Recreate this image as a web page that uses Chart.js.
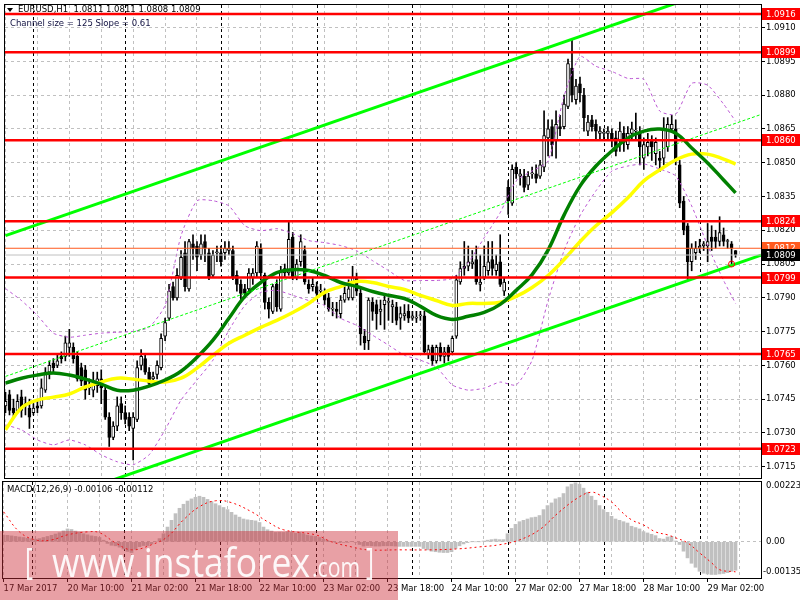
<!DOCTYPE html>
<html>
<head>
<meta charset="utf-8">
<title>EURUSD H1</title>
<script src="https://cdn.jsdelivr.net/npm/chart.js@4.4.1/dist/chart.umd.min.js"></script>
<style>
  html, body { margin: 0; padding: 0; background: #fff; }
  #wrap { position: relative; width: 800px; height: 600px; overflow: hidden; }
  #wrap canvas { position: absolute; left: 0; }
  #price { top: 0; }
  #macd { top: 480px; }
</style>
</head>
<body>
<div id="wrap">
  <canvas id="price" width="800" height="483"></canvas>
  <canvas id="macd" width="800" height="120"></canvas>
</div>
<script>
// ---------------- DATA ----------------
// H1 bars, index 0 = 17 Mar 2017 17:00
const opens = [
  1.0742,1.0747,1.0741,1.0740,1.0746,1.0742,1.0741,1.0739,1.0742,1.0742,
  1.0749,1.0757,1.0761,1.0760,1.0764,1.0764,1.0768,1.0768,1.0764,1.0759,
  1.0758,1.0750,1.0749,1.0751,1.0754,1.0749,1.0737,1.0728,1.0733,1.0743,
  1.0739,1.0737,1.0732,1.0736,1.0760,1.0763,1.0757,1.0754,1.0756,1.0759,
  1.0773,1.0781,1.0795,1.0790,1.0799,1.0810,1.0794,1.0814,1.0813,1.0809,
  1.0815,1.0810,1.0800,1.0810,1.0810,1.0810,1.0811,1.0811,1.0800,1.0796,
  1.0794,1.0794,1.0799,1.0801,1.0812,1.0800,1.0788,1.0784,1.0796,1.0785,
  1.0803,1.0801,1.0817,1.0799,1.0806,1.0811,1.0796,1.0795,1.0795,1.0793,
  1.0792,1.0790,1.0785,1.0785,1.0783,1.0789,1.0790,1.0790,1.0799,1.0792,
  1.0773,1.0771,1.0788,1.0787,1.0784,1.0787,1.0788,1.0786,1.0786,1.0781,
  1.0782,1.0784,1.0781,1.0781,1.0782,1.0782,1.0765,1.0768,1.0762,1.0768,
  1.0764,1.0768,1.0766,1.0773,1.0797,1.0804,1.0804,1.0805,1.0807,1.0796,
  1.0799,1.0802,1.0807,1.0802,1.0806,1.0793,1.0839,1.0832,1.0848,1.0844,
  1.0844,1.0840,1.0845,1.0845,1.0844,1.0848,1.0861,1.0866,1.0860,1.0866,
  1.0866,1.0875,1.0892,1.0878,1.0885,1.0880,1.0864,1.0869,1.0867,1.0863,
  1.0863,1.0863,1.0863,1.0861,1.0860,1.0863,1.0858,1.0863,1.0864,1.0863,
  1.0852,1.0857,1.0860,1.0854,1.0852,1.0852,1.0857,1.0865,1.0865,1.0849,
  1.0833,1.0822,1.0806,1.0810,1.0812,1.0813,1.0813,1.0817,1.0817,1.0815,
  1.0818,1.0815,1.0814,1.0811
];
const highs = [
  1.0748,1.0749,1.0745,1.0747,1.0749,1.0746,1.0745,1.0743,1.0745,1.0754,
  1.0759,1.0762,1.0763,1.0765,1.0766,1.0773,1.0776,1.0770,1.0766,1.0761,
  1.0760,1.0754,1.0757,1.0757,1.0758,1.0751,1.0739,1.0735,1.0746,1.0746,
  1.0742,1.0739,1.0739,1.0762,1.0767,1.0765,1.0759,1.0757,1.0762,1.0774,
  1.0781,1.0796,1.0797,1.0803,1.0811,1.0815,1.0816,1.0818,1.0815,1.0818,
  1.0818,1.0812,1.0811,1.0813,1.0813,1.0815,1.0815,1.0813,1.0802,1.0798,
  1.0796,1.0803,1.0803,1.0815,1.0814,1.0801,1.0790,1.0796,1.0798,1.0804,
  1.0805,1.0824,1.0819,1.0807,1.0818,1.0813,1.0798,1.0799,1.0797,1.0796,
  1.0794,1.0792,1.0788,1.0788,1.0791,1.0795,1.0798,1.0804,1.0801,1.0794,
  1.0776,1.0790,1.0790,1.0789,1.0789,1.0791,1.0790,1.0789,1.0788,1.0786,
  1.0787,1.0787,1.0784,1.0784,1.0784,1.0784,1.0769,1.0769,1.0769,1.0770,
  1.0768,1.0769,1.0773,1.0800,1.0806,1.0815,1.0813,1.0811,1.0813,1.0809,
  1.0813,1.0815,1.0815,1.0809,1.0818,1.0799,1.0842,1.0849,1.0850,1.0847,
  1.0847,1.0846,1.0848,1.0849,1.0851,1.0873,1.0869,1.0869,1.0873,1.0871,
  1.0880,1.0896,1.0905,1.0887,1.0888,1.0883,1.0871,1.0871,1.0869,1.0866,
  1.0865,1.0866,1.0865,1.0864,1.0868,1.0866,1.0866,1.0868,1.0872,1.0866,
  1.0861,1.0863,1.0862,1.0861,1.0855,1.0870,1.0870,1.0871,1.0869,1.0851,
  1.0835,1.0823,1.0814,1.0815,1.0816,1.0815,1.0823,1.0822,1.0820,1.0826,
  1.0821,1.0816,1.0815,1.0811
];
const lows = [
  1.0739,1.0738,1.0737,1.0739,1.0737,1.0738,1.0732,1.0738,1.0739,1.0741,
  1.0748,1.0754,1.0757,1.0759,1.0761,1.0762,1.0764,1.0761,1.0753,1.0751,
  1.0745,1.0747,1.0746,1.0748,1.0743,1.0736,1.0724,1.0727,1.0731,1.0736,
  1.0734,1.0731,1.0718,1.0735,1.0758,1.0756,1.0751,1.0753,1.0754,1.0758,
  1.0771,1.0780,1.0789,1.0789,1.0798,1.0793,1.0793,1.0807,1.0802,1.0807,
  1.0806,1.0798,1.0799,1.0806,1.0804,1.0807,1.0809,1.0798,1.0793,1.0789,
  1.0790,1.0792,1.0796,1.0799,1.0798,1.0785,1.0781,1.0783,1.0784,1.0784,
  1.0799,1.0800,1.0798,1.0798,1.0804,1.0796,1.0792,1.0793,1.0791,1.0791,
  1.0787,1.0784,1.0782,1.0781,1.0781,1.0788,1.0789,1.0789,1.0791,1.0769,
  1.0767,1.0767,1.0780,1.0776,1.0778,1.0776,1.0780,1.0779,1.0778,1.0776,
  1.0780,1.0779,1.0780,1.0779,1.0780,1.0765,1.0763,1.0760,1.0761,1.0762,
  1.0761,1.0762,1.0765,1.0772,1.0796,1.0800,1.0802,1.0803,1.0796,1.0793,
  1.0798,1.0800,1.0800,1.0800,1.0795,1.0791,1.0827,1.0831,1.0843,1.0840,
  1.0837,1.0838,1.0843,1.0841,1.0843,1.0846,1.0853,1.0853,1.0852,1.0862,
  1.0865,1.0874,1.0877,1.0876,1.0877,1.0864,1.0862,1.0864,1.0860,1.0860,
  1.0860,1.0860,1.0857,1.0853,1.0855,1.0855,1.0856,1.0860,1.0860,1.0849,
  1.0847,1.0853,1.0851,1.0849,1.0846,1.0849,1.0855,1.0864,1.0849,1.0830,
  1.0818,1.0798,1.0802,1.0807,1.0810,1.0811,1.0806,1.0811,1.0812,1.0813,
  1.0813,1.0812,1.0805,1.0808
];
const closes = [
  1.0744,1.0740,1.0739,1.0744,1.0740,1.0743,1.0737,1.0741,1.0741,1.0750,
  1.0757,1.0760,1.0759,1.0762,1.0763,1.0770,1.0770,1.0763,1.0754,1.0753,
  1.0749,1.0750,1.0752,1.0754,1.0750,1.0737,1.0728,1.0733,1.0742,1.0739,
  1.0736,1.0733,1.0737,1.0759,1.0764,1.0757,1.0752,1.0755,1.0760,1.0772,
  1.0779,1.0793,1.0790,1.0800,1.0808,1.0795,1.0815,1.0812,1.0808,1.0814,
  1.0812,1.0799,1.0809,1.0810,1.0806,1.0812,1.0812,1.0799,1.0796,1.0792,
  1.0792,1.0801,1.0801,1.0813,1.0801,1.0788,1.0785,1.0795,1.0786,1.0802,
  1.0801,1.0816,1.0799,1.0805,1.0815,1.0797,1.0794,1.0796,1.0792,1.0793,
  1.0789,1.0785,1.0785,1.0784,1.0789,1.0792,1.0794,1.0799,1.0793,1.0774,
  1.0770,1.0789,1.0784,1.0783,1.0785,1.0789,1.0788,1.0787,1.0780,1.0783,
  1.0783,1.0781,1.0782,1.0781,1.0782,1.0766,1.0767,1.0762,1.0768,1.0764,
  1.0766,1.0764,1.0772,1.0798,1.0803,1.0803,1.0806,1.0806,1.0797,1.0797,
  1.0804,1.0806,1.0803,1.0805,1.0796,1.0797,1.0833,1.0847,1.0845,1.0845,
  1.0839,1.0844,1.0845,1.0843,1.0849,1.0862,1.0865,1.0858,1.0867,1.0865,
  1.0876,1.0894,1.0880,1.0884,1.0881,1.0870,1.0868,1.0866,1.0864,1.0864,
  1.0863,1.0864,1.0860,1.0855,1.0864,1.0859,1.0863,1.0865,1.0864,1.0857,
  1.0858,1.0859,1.0857,1.0859,1.0851,1.0865,1.0867,1.0867,1.0851,1.0832,
  1.0820,1.0806,1.0812,1.0812,1.0813,1.0814,1.0815,1.0815,1.0815,1.0819,
  1.0815,1.0815,1.0812,1.0809
];

// indicator lines, sampled at these bar indexes
const lineBars = [0,4,8,12,16,20,24,28,32,36,40,44,48,52,56,60,64,68,72,76,80,84,88,92,96,100,
  104,108,112,116,120,124,128,132,136,140,144,148,152,156,160,164,168,172,176,180,183];
const maGreen = [1.07521,1.07543,1.07557,1.07566,1.07557,1.07539,1.07517,1.07490,1.07490,1.07508,
  1.07535,1.07574,1.07636,1.07712,1.07809,1.07906,1.07968,1.08012,1.08025,1.08021,
  1.07999,1.07968,1.07950,1.07928,1.07911,1.07897,1.07862,1.07822,1.07804,1.07818,
  1.07835,1.07871,1.07933,1.08003,1.08112,1.08267,1.08396,1.08485,1.08552,1.08609,
  1.08640,1.08649,1.08631,1.08565,1.08499,1.08423,1.08366];
const maYellow = [1.07314,1.07411,1.07446,1.07459,1.07473,1.07504,1.07526,1.07543,1.07539,1.07530,
  1.07526,1.07543,1.07588,1.07645,1.07698,1.07734,1.07769,1.07800,1.07835,1.07875,
  1.07924,1.07950,1.07972,1.07968,1.07950,1.07937,1.07911,1.07888,1.07866,1.07875,
  1.07875,1.07880,1.07906,1.07946,1.07999,1.08070,1.08149,1.08220,1.08278,1.08344,
  1.08419,1.08468,1.08512,1.08538,1.08538,1.08516,1.08494];
const bandUpper = [1.07941,1.07888,1.07822,1.07743,1.07725,1.07734,1.07743,1.07747,1.07751,1.07769,
  1.07866,1.08176,1.08331,1.08331,1.08308,1.08220,1.08198,1.08207,1.08185,1.08154,
  1.08145,1.08132,1.08109,1.08065,1.08021,1.07977,1.07977,1.07977,1.07986,1.08056,
  1.08167,1.08278,1.08419,1.08463,1.08507,1.08795,1.08972,1.08928,1.08905,1.08874,
  1.08870,1.08729,1.08715,1.08852,1.08844,1.08760,1.08684];
const bandLower = [1.07336,1.07314,1.07269,1.07247,1.07269,1.07247,1.07203,1.07172,1.07159,1.07203,
  1.07314,1.07446,1.07535,1.07623,1.07756,1.07866,1.07924,1.07933,1.07911,1.07888,
  1.07866,1.07809,1.07778,1.07734,1.07690,1.07645,1.07623,1.07592,1.07513,1.07490,
  1.07499,1.07526,1.07513,1.07623,1.07888,1.08109,1.08264,1.08375,1.08463,1.08485,
  1.08494,1.08472,1.08441,1.08308,1.08132,1.07977,1.07875];

// MACD(12,26,9) histogram, one value per bar
const macdHist = [
  0.00025,0.00024,0.00022,0.00020,0.00018,0.00016,0.00013,0.00011,0.00010,0.00012,
  0.00016,0.00020,0.00024,0.00029,0.00034,0.00041,0.00048,0.00046,0.00040,0.00036,
  0.00030,0.00026,0.00022,0.00020,0.00016,0.00006,-0.00006,-0.00013,-0.00015,-0.00020,
  -0.00027,-0.00036,-0.00040,-0.00028,-0.00018,-0.00014,-0.00014,-0.00008,0.00000,0.00012,
  0.00030,0.00055,0.00080,0.00105,0.00125,0.00140,0.00152,0.00160,0.00166,0.00170,
  0.00166,0.00158,0.00150,0.00142,0.00135,0.00128,0.00120,0.00110,0.00100,0.00092,
  0.00085,0.00082,0.00080,0.00078,0.00072,0.00055,0.00045,0.00040,0.00035,0.00036,
  0.00035,0.00038,0.00035,0.00032,0.00035,0.00030,0.00025,0.00022,0.00020,0.00016,
  0.00010,0.00005,0.00002,-0.00002,-0.00003,-0.00002,-0.00002,0.00001,-0.00002,-0.00010,
  -0.00016,-0.00014,-0.00015,-0.00016,-0.00016,-0.00015,-0.00015,-0.00015,-0.00016,-0.00017,
  -0.00017,-0.00017,-0.00017,-0.00017,-0.00017,-0.00025,-0.00030,-0.00035,-0.00037,-0.00039,
  -0.00040,-0.00040,-0.00037,-0.00025,-0.00015,-0.00008,-0.00003,0.00000,0.00000,0.00000,
  0.00003,0.00006,0.00008,0.00010,0.00008,0.00008,0.00030,0.00050,0.00065,0.00075,
  0.00080,0.00085,0.00090,0.00092,0.00098,0.00120,0.00135,0.00145,0.00160,0.00165,
  0.00180,0.00205,0.00215,0.00220,0.00215,0.00200,0.00185,0.00170,0.00155,0.00135,
  0.00120,0.00110,0.00095,0.00085,0.00080,0.00075,0.00070,0.00058,0.00053,0.00048,
  0.00038,0.00033,0.00028,0.00023,0.00012,0.00010,0.00018,0.00020,0.00003,-0.00010,
  -0.00035,-0.00060,-0.00080,-0.00095,-0.00110,-0.00117,-0.00120,-0.00122,-0.00122,-0.00120,
  -0.00118,-0.00115,-0.00110,-0.00106
];
const signalBars = [0,4,8,12,16,21,24,28,32,37,41,45,49,53,57,62,66,70,78,82,87,91,99,107,114,
  119,124,129,134,139,144,147,149,152,154,157,160,163,166,168,171,174,177,179,183];
const signalVals = [0.00112,0.00037,0.00007,0.00007,0.00026,0.00037,0.00034,-0.00004,-0.00030,-0.00011,
  0.00019,0.00082,0.00131,0.00153,0.00146,0.00112,0.00075,0.00045,0.00026,0.00000,
  -0.00019,-0.00030,-0.00030,-0.00030,-0.00026,-0.00019,-0.00011,0.00007,0.00045,0.00112,
  0.00168,0.00185,0.00175,0.00149,0.00119,0.00082,0.00063,0.00037,0.00026,0.00015,
  -0.00004,-0.00041,-0.00078,-0.00104,-0.00112];

// horizontal levels and channel
const levels = [1.0916, 1.0899, 1.0860, 1.0824, 1.0799, 1.0765, 1.0723];
const askPrice = 1.0812;
const bidPrice = 1.0809;
const chanBars = [0, 189.4];
const chanUpper = [1.08176, 1.09339];
const chanMid = [1.07551, 1.08714];
const chanLower = [1.06926, 1.08089];
const markBar = [182];
const markPrice = [1.0805];

// axes
const priceTicks = [1.0715,1.0730,1.0745,1.0760,1.0775,1.0790,1.0805,1.0820,1.0835,1.0850,1.0865,1.0880,1.0895,1.0910];
const gridBars = [0,8,16,24,32,40,48,56,64,72,80,88,96,104,112,120,128,136,144,152,160,168,176,184];
const labelBars = [0,16,32,48,64,80,96,112,128,144,160,176];
const timeLabels = ['17 Mar 2017','20 Mar 10:00','21 Mar 02:00','21 Mar 18:00','22 Mar 10:00','23 Mar 02:00',
  '23 Mar 18:00','24 Mar 10:00','27 Mar 02:00','27 Mar 18:00','28 Mar 10:00','29 Mar 02:00'];
const sepBars = [7, 30, 54, 78, 102, 126, 150, 174];

const X_MIN = -0.125, X_MAX = 189.375;
const FONT = '"DejaVu Sans", sans-serif';

Chart.defaults.font.family = FONT;
Chart.defaults.font.size = 8.5;
Chart.defaults.color = '#000';

// ---------------- HELPERS ----------------
function pts(xs, ys) { return xs.map((x, k) => ({ x: x, y: ys[k] })); }

function lineSet(data, color, width, dash, order, tension) {
  return {
    type: 'line', data: data, borderColor: color, borderWidth: width,
    borderDash: dash || [], pointRadius: 0, fill: false, order: order,
    tension: tension || 0
  };
}

// keep the plot area where it is: no extra room for edge labels
function fixSide(s, w) {
  s.width = w;
  s.paddingTop = 0;
  s.paddingBottom = 0;
}

function drawSeparators(chart) {
  const { ctx, chartArea: a, scales: { x } } = chart;
  ctx.save();
  ctx.strokeStyle = '#000';
  ctx.lineWidth = 1;
  ctx.setLineDash([3, 3]);
  sepBars.forEach(b => {
    const px = Math.round(x.getPixelForValue(b)) + 0.5;
    ctx.beginPath();
    ctx.moveTo(px, a.top);
    ctx.lineTo(px, a.bottom);
    ctx.stroke();
  });
  ctx.restore();
}

function drawFrame(chart) {
  const { ctx, chartArea: a } = chart;
  ctx.save();
  ctx.strokeStyle = '#000';
  ctx.lineWidth = 1;
  ctx.strokeRect(a.left - 0.5, a.top - 0.5, a.right - a.left + 1, a.bottom - a.top + 1);
  ctx.restore();
}

// ---------------- PRICE PANEL ----------------
const barIdx = opens.map((o, i) => i);

const priceDecor = {
  id: 'priceDecor',
  beforeDatasetsDraw(chart) {
    drawSeparators(chart);
    const ctx = chart.ctx;
    ctx.save();
    ctx.fillStyle = '#000';
    ctx.beginPath();
    ctx.moveTo(7, 8); ctx.lineTo(13, 8); ctx.lineTo(10, 12); ctx.closePath();
    ctx.fill();
    ctx.font = '8.5px ' + FONT;
    ctx.textBaseline = 'middle';
    ctx.fillText('EURUSD,H1  1.0811 1.0811 1.0808 1.0809', 18, 10);
    ctx.fillStyle = '#101040';
    ctx.fillText('Channel size = 125 Slope = 0.61', 10, 24);
    ctx.restore();
  },
  afterDraw(chart) {
    drawFrame(chart);
    const { ctx, chartArea: a, scales: { y } } = chart;
    const tags = levels.map(v => ({ v: v, bg: '#ff0000' }))
      .concat([{ v: askPrice, bg: '#ff5a1e' }, { v: bidPrice, bg: '#000000' }]);
    ctx.save();
    ctx.font = '8.5px ' + FONT;
    ctx.textBaseline = 'middle';
    tags.forEach(t => {
      const py = Math.round(y.getPixelForValue(t.v));
      ctx.fillStyle = t.bg;
      ctx.fillRect(a.right + 1, py - 6, 800 - a.right - 1, 12);
      ctx.fillStyle = '#fff';
      ctx.fillText(t.v.toFixed(4), a.right + 5, py + 0.5);
    });
    ctx.restore();
  }
};

const priceSets = [];
levels.forEach(v => priceSets.push(lineSet(pts([X_MIN, X_MAX], [v, v]), '#ff0000', 2.5, null, 0)));
priceSets.push(lineSet(pts([X_MIN, X_MAX], [askPrice, askPrice]), '#ff5a1e', 1, null, 1));
priceSets.push(lineSet(pts([X_MIN, X_MAX], [bidPrice, bidPrice]), '#c0c0c0', 1, null, 1));
priceSets.push(lineSet(pts(chanBars, chanUpper), '#00ff00', 3, null, 1));
priceSets.push(lineSet(pts(chanBars, chanLower), '#00ff00', 3, null, 1));
priceSets.push(lineSet(pts(chanBars, chanMid), '#00ff00', 1, [3, 2], 1));
priceSets.push(lineSet(pts(lineBars, maGreen), '#008000', 3.5, null, 2, 0.4));
priceSets.push(lineSet(pts(lineBars, maYellow), '#ffff00', 3.5, null, 2, 0.4));
priceSets.push(lineSet(pts(lineBars, bandUpper), '#ba55d3', 1, [3, 3], 3, 0.2));
priceSets.push(lineSet(pts(lineBars, bandLower), '#ba55d3', 1, [3, 3], 3, 0.2));
priceSets.push({
  type: 'line', data: pts(markBar, markPrice), showLine: false, order: 0,
  pointRadius: 3, pointBorderColor: '#ff0000', pointBackgroundColor: 'rgba(0,0,0,0)', pointBorderWidth: 1
});
priceSets.push({
  type: 'bar', data: barIdx.map(i => ({ x: i, y: [opens[i], closes[i]] })),
  barThickness: 3, minBarLength: 1, grouped: false, order: 5,
  backgroundColor: c => closes[c.dataIndex] >= opens[c.dataIndex] ? '#ffffff' : '#000000',
  borderColor: '#000', borderWidth: 1, borderSkipped: false
});
priceSets.push({
  type: 'bar', data: barIdx.map(i => ({ x: i, y: [lows[i], highs[i]] })),
  barThickness: 1, grouped: false, order: 6, backgroundColor: '#000', borderWidth: 0
});

new Chart(document.getElementById('price'), {
  type: 'bar',
  data: { datasets: priceSets },
  options: {
    responsive: false, animation: false, events: [],
    layout: { padding: { left: 3, top: 3, right: 0, bottom: 2 } },
    plugins: { legend: { display: false }, tooltip: { enabled: false } },
    scales: {
      x: {
        type: 'linear', position: 'bottom', min: X_MIN, max: X_MAX, offset: false,
        afterBuildTicks: s => { s.ticks = gridBars.map(v => ({ value: v })); },
        afterFit: s => { s.height = 0; s.paddingLeft = 0; s.paddingRight = 0; },
        ticks: { display: false },
        grid: { color: '#c0c0c0', drawTicks: false, offset: false },
        border: { display: false, dash: [3, 3] }
      },
      y: {
        type: 'linear', position: 'right', min: 1.0710, max: 1.0920,
        afterBuildTicks: s => { s.ticks = priceTicks.map(v => ({ value: v })); },
        afterFit: s => fixSide(s, 39),
        ticks: { padding: 1, callback: v => v.toFixed(4), font: { size: 8.5 } },
        grid: { color: '#c0c0c0', tickLength: 4, tickColor: '#000' },
        border: { display: false, dash: [3, 3] }
      }
    }
  },
  plugins: [priceDecor]
});

// ---------------- MACD PANEL ----------------
const macdMin = -0.00135, macdMax = 0.00223;

const macdDecor = {
  id: 'macdDecor',
  beforeDatasetsDraw(chart) { drawSeparators(chart); },
  afterDraw(chart) {
    drawFrame(chart);
    const { ctx, chartArea: a, scales: { y } } = chart;
    ctx.save();
    ctx.font = '8.5px ' + FONT;
    ctx.textBaseline = 'middle';
    ctx.fillStyle = '#000';
    ctx.fillText('MACD(12,26,9) -0.00106 -0.00112', 7, 10);
    ctx.fillText('0.00223', a.right + 5, y.getPixelForValue(macdMax) + 4);
    ctx.fillText('0.00', a.right + 5, y.getPixelForValue(0));
    ctx.fillText('-0.00135', a.right + 2, y.getPixelForValue(macdMin) - 6);

    // watermark
    ctx.fillStyle = 'rgba(205,45,55,0.45)';
    ctx.fillRect(0, 51, 398, 69);
    ctx.fillStyle = 'rgba(255,255,255,0.92)';
    ctx.textBaseline = 'alphabetic';
    const fitText = (txt, size, x0, x1, base) => {
      ctx.font = size + 'px "Open Sans", sans-serif';
      const w = ctx.measureText(txt).width;
      ctx.save();
      ctx.translate(x0, base);
      ctx.scale((x1 - x0) / w, 1);
      ctx.fillText(txt, 0, 0);
      ctx.restore();
    };
    fitText('[', 36, 25, 33, 94);
    fitText('www.instaforex', 41, 52, 310, 97);
    fitText('.com', 28, 312, 360, 97);
    fitText(']', 36, 366, 374, 94);
    ctx.restore();
  }
};

new Chart(document.getElementById('macd'), {
  type: 'bar',
  data: {
    datasets: [
      lineSet(pts(signalBars, signalVals), '#ff0000', 1, [2, 3], 0, 0.4),
      {
        type: 'bar', data: barIdx.map(i => ({ x: i, y: macdHist[i] })),
        barThickness: 3, grouped: false, order: 1, backgroundColor: '#c0c0c0', borderWidth: 0
      }
    ]
  },
  options: {
    responsive: false, animation: false, events: [],
    layout: { padding: { left: 3, top: 2, right: 0, bottom: 0 } },
    plugins: { legend: { display: false }, tooltip: { enabled: false } },
    scales: {
      x: {
        type: 'linear', position: 'bottom', min: X_MIN, max: X_MAX, offset: false,
        afterBuildTicks: s => { s.ticks = gridBars.map(v => ({ value: v })); },
        afterFit: s => { s.height = 22; s.paddingLeft = 0; s.paddingRight = 0; },
        ticks: {
          autoSkip: false, maxRotation: 0, minRotation: 0, align: 'start', padding: 2,
          callback: v => { const k = labelBars.indexOf(v); return k >= 0 ? timeLabels[k] : ''; }
        },
        grid: {
          color: '#c0c0c0', offset: false, tickLength: 4,
          tickColor: c => (c.tick && labelBars.indexOf(c.tick.value) >= 0) ? '#000' : 'rgba(0,0,0,0)'
        },
        border: { display: false, dash: [3, 3] }
      },
      y: {
        type: 'linear', position: 'right', min: macdMin, max: macdMax,
        afterBuildTicks: s => { s.ticks = [{ value: 0 }]; },
        afterFit: s => fixSide(s, 39),
        ticks: { display: false },
        grid: { color: '#c0c0c0', drawTicks: false },
        border: { display: false, dash: [3, 3] }
      }
    }
  },
  plugins: [macdDecor]
});
</script>
</body>
</html>
